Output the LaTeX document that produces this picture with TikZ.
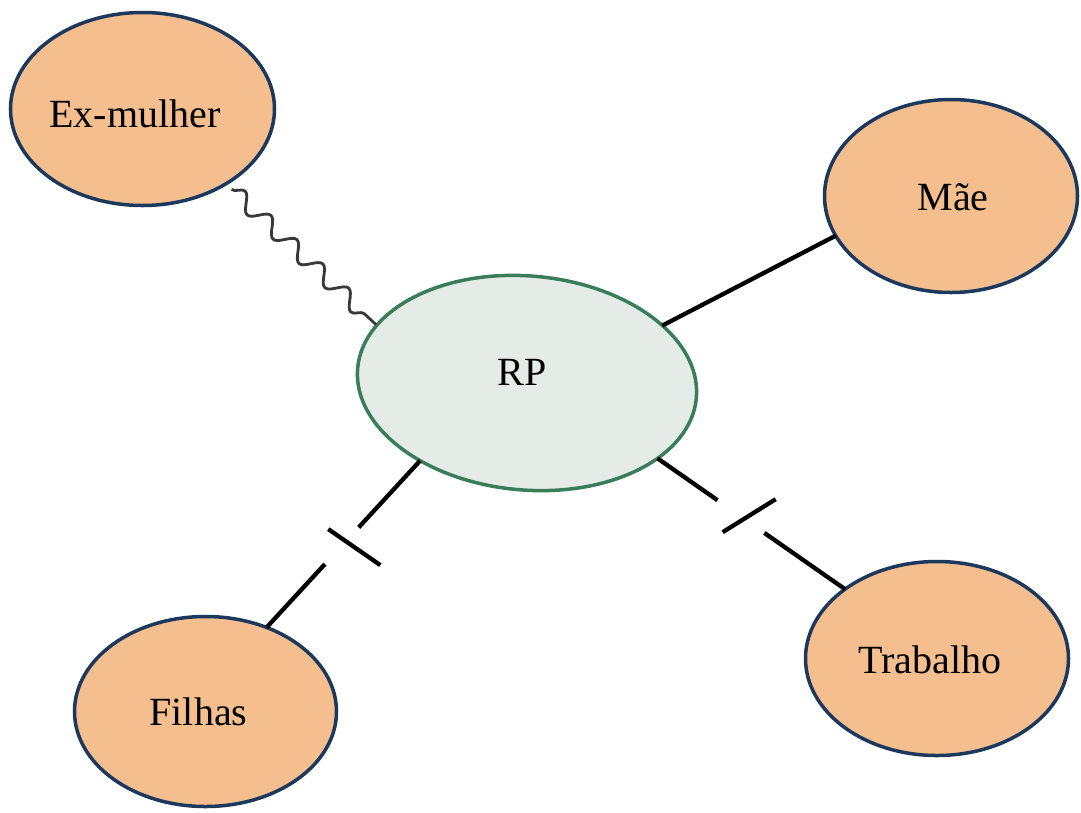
\documentclass[tikz,border=0pt]{standalone}
\usepackage{fontspec}
\setmainfont{Liberation Serif}
\usetikzlibrary{shapes.geometric,decorations.pathmorphing,calc}
\definecolor{nodeorange}{RGB}{245,190,142}
\definecolor{nodenavy}{RGB}{28,56,92}
\definecolor{rpgreen}{RGB}{58,125,90}
\definecolor{rpfill}{RGB}{229,235,231}
\begin{document}
\begin{tikzpicture}[x=1pt,y=-1pt,
  outernode/.style={ellipse, draw=nodenavy, fill=nodeorange, line width=3.5pt, inner sep=0pt, outer sep=0pt},
  rpnode/.style={ellipse, draw=rpgreen, fill=rpfill, line width=3.5pt, inner sep=0pt, outer sep=0pt},
  lbl/.style={font=\fontsize{40}{48}\selectfont, anchor=base, inner sep=0pt, text=black},
  link/.style={line width=4.3pt, draw=black},
  wavy/.style={decorate, decoration={snake, amplitude=8pt, segment length=35.5pt}, line width=2.8pt, draw=black!78}
]
\useasboundingbox (0,0) rectangle (1081,812);
\fill[white] (0,0) rectangle (1081,812);

% ellipses
\node[outernode, minimum width=264pt, minimum height=193pt] (ex) at (142.5,109) {};
\node[outernode, minimum width=253pt, minimum height=193pt] (mae) at (951,196) {};
\node[outernode, minimum width=262pt, minimum height=190pt] (fil) at (205.5,711.5) {};
\node[outernode, minimum width=263pt, minimum height=194pt] (trab) at (937,658.5) {};
\node[rpnode, rotate=-5, minimum width=340pt, minimum height=214pt] (rp) at (527,383) {};

% labels
\node[lbl] (tex) at (135,127) {Ex-mulher};
\node[lbl] (tmae) at (953,210) {Mãe};
\node[lbl] (tfil) at (198.5,725) {Filhas};
\node[lbl] (ttrab) at (930,673) {Trabalho};
\node[lbl] (trp) at (522,385) {RP};

% wavy connector (conflict)
\draw[wavy] ($(ex.-42)!8pt!(rp.164)$) -- ($(rp.164)!1pt!(ex.-42)$);

% plain connector
\draw[link] (rp.28) -- (mae.199.9);

% broken connector to Filhas
\coordinate (fa) at (rp.221);
\coordinate (fb) at (fil.54.7);
\coordinate (fm) at ($(fa)!0.51!(fb)$);
\draw[link] (fa) -- ($(fa)!0.40!(fb)$);
\draw[link] ($(fa)!0.62!(fb)$) -- (fb);
\draw[link] ($(fm)+(-13.5,-16.6)$) -- ($(fm)+(38.5,19.4)$);

% broken connector to Trabalho
\coordinate (ta) at (rp.-25.7);
\coordinate (tb) at (trab.143.8);
\coordinate (tm) at ($(ta)!0.445!(tb)$);
\draw[link] (ta) -- ($(ta)!0.32!(tb)$);
\draw[link] ($(ta)!0.57!(tb)$) -- (tb);
\draw[link] ($(tm)+(-18.3,15.6)$) -- ($(tm)+(34.7,-17.4)$);
\end{tikzpicture}
\end{document}
